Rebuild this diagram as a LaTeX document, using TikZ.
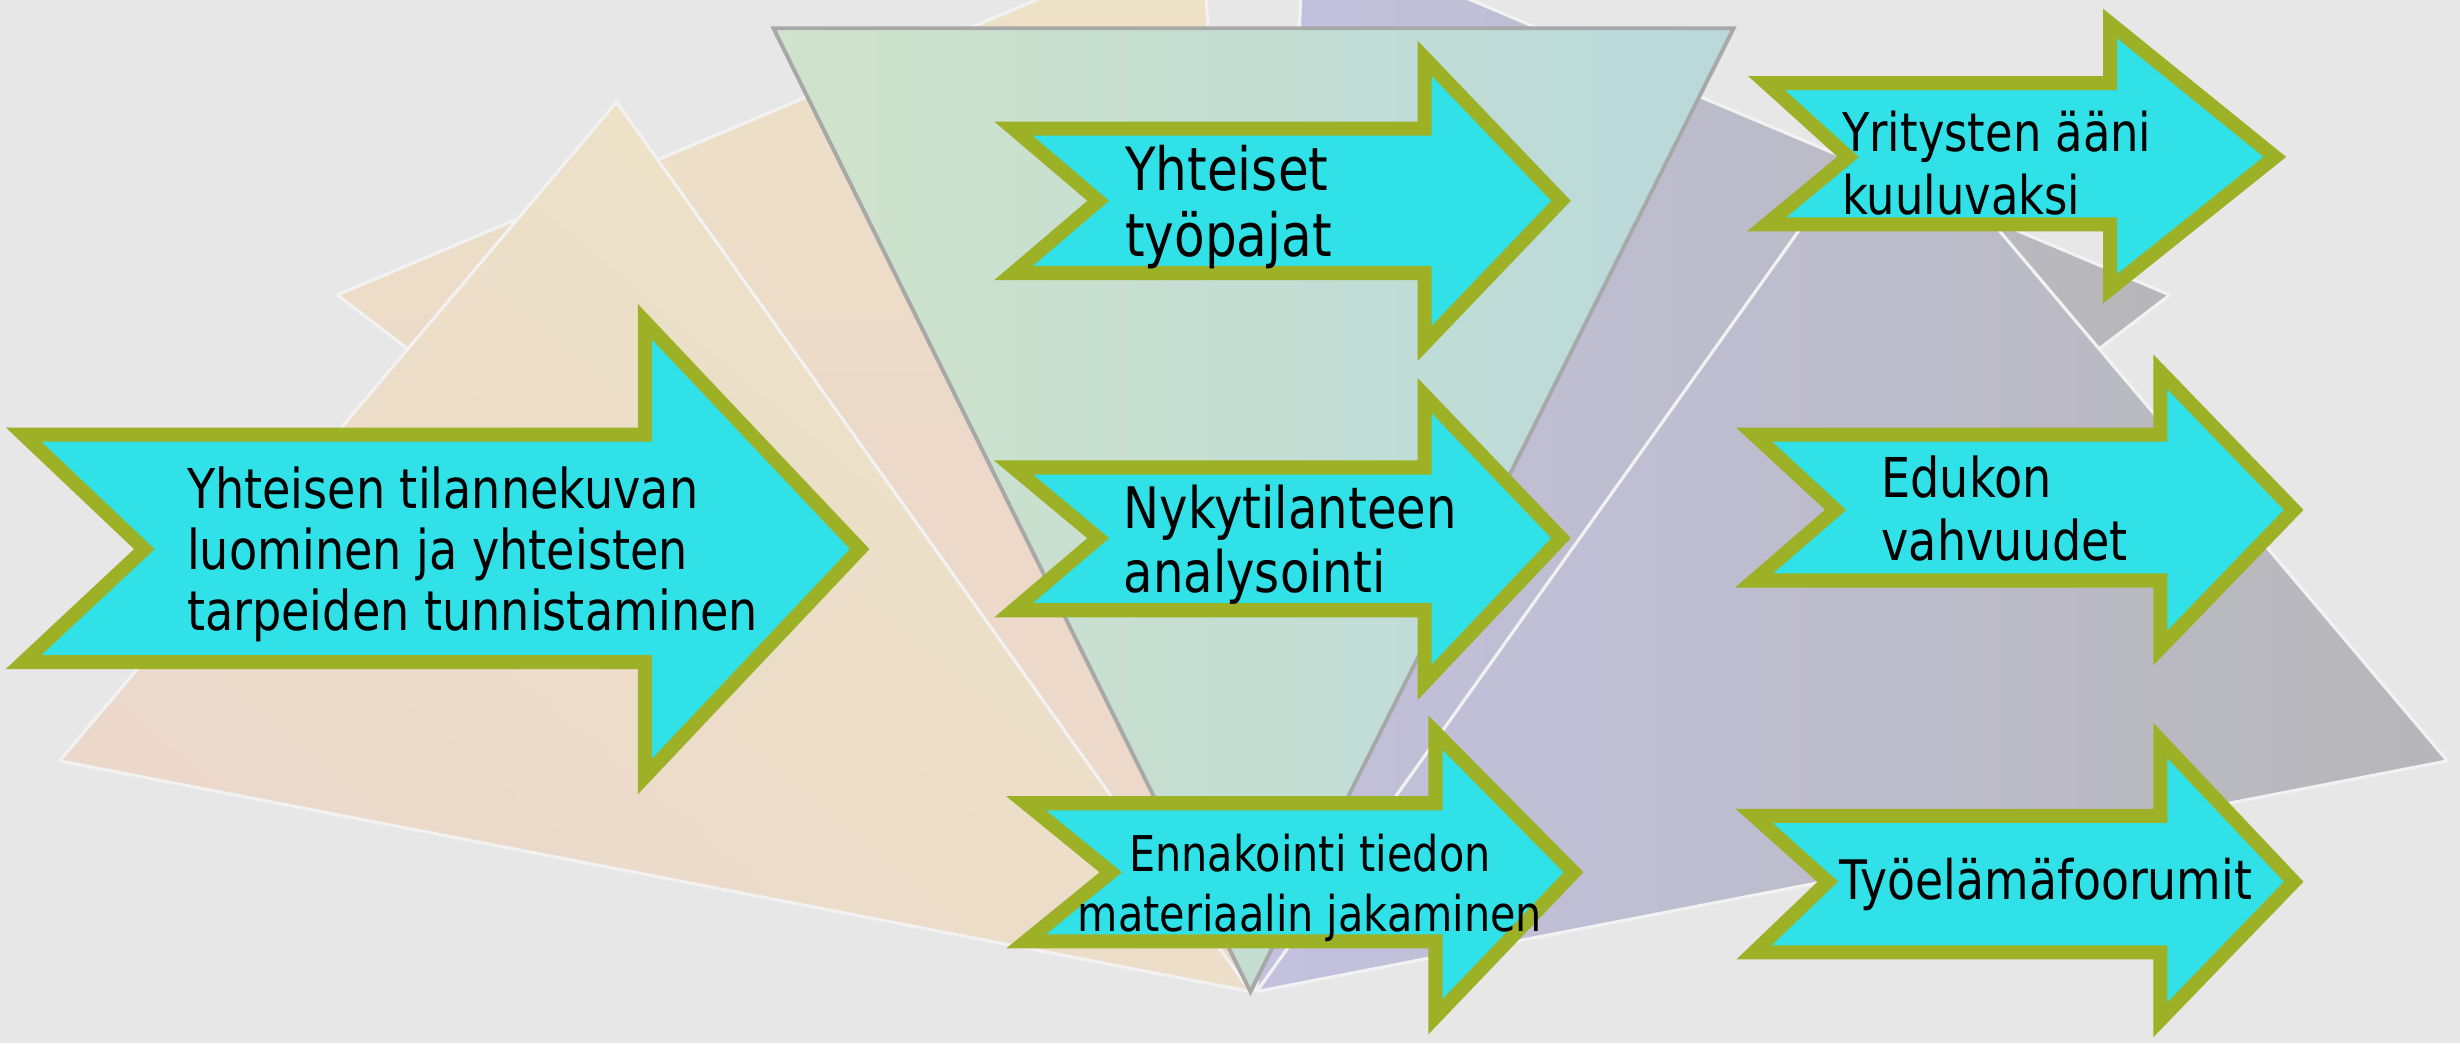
\documentclass[tikz,border=0pt]{standalone}
\usepackage{fontspec}
\setmainfont{DejaVu Sans}[FakeStretch=0.84]
\definecolor{bg}{HTML}{E7E7E7}
\definecolor{arrowfill}{HTML}{30E1E8}
\definecolor{arrowline}{HTML}{9CB126}
\definecolor{edgewhite}{HTML}{F2F2F2}
\definecolor{yelTop}{HTML}{EDE3C7}
\definecolor{yelBot}{HTML}{EBD8CB}
\definecolor{salTop}{HTML}{EDE2C6}
\definecolor{salBot}{HTML}{ECD9C9}
\definecolor{purTop}{HTML}{C3C1DE}
\definecolor{purMid}{HTML}{BDBCCB}
\definecolor{gryBot}{HTML}{B7B7B9}
\definecolor{grnL}{HTML}{D0E3CB}
\definecolor{grnR}{HTML}{B9D9DB}
\definecolor{grnEdge}{HTML}{A8A8A8}
\tikzset{
  arrowbox/.style={fill=arrowfill, draw=arrowline, line width=9pt, line join=miter},
  tri/.style={draw=edgewhite, line width=2pt, line join=round},
  lbl/.style={inner sep=0pt, text=black}
}
\begin{document}
\begin{tikzpicture}[x=1pt,y=-1pt]
\useasboundingbox (0,0) rectangle (1568,665);
\fill[bg] (0,0) rectangle (1568,665);
\clip (0,0) rectangle (1568,665);
% back triangles
\path[tri, top color=salTop, bottom color=salBot, middle color=salBot] (215,188) -- (767,-45) -- (797,632) -- cycle;
\path[tri, left color=purTop, right color=gryBot, middle color=purMid] (1383,188) -- (831,-45) -- (801,632) -- cycle;
% front triangles
\path[tri, top color=yelTop, bottom color=yelBot, shading angle=-40] (393,65) -- (38,485) -- (797,632) -- cycle;
\path[tri, left color=purTop, right color=gryBot] (1205,65) -- (1560,485) -- (801,632) -- cycle;
% inverted green triangle
\path[draw=grnEdge, line width=2.5pt, left color=grnL, right color=grnR] (493,18) -- (1105,18) -- (797,632) -- cycle;
% arrows
\draw[arrowbox] (15,277) -- (411,277) -- (411,205) -- (548,350) -- (411,495) -- (411,422) -- (15,422) -- (92,350) -- cycle;
\draw[arrowbox] (646,82) -- (908,82) -- (908,37) -- (995,128) -- (908,219) -- (908,174) -- (646,174) -- (700,128) -- cycle;
\draw[arrowbox] (646,298) -- (908,298) -- (908,252) -- (995,343) -- (908,435) -- (908,389) -- (646,389) -- (700,343) -- cycle;
\draw[arrowbox] (654,512) -- (915,512) -- (915,467) -- (1003,556) -- (915,648) -- (915,600) -- (654,600) -- (708,556) -- cycle;
\draw[arrowbox] (1126,53) -- (1345,53) -- (1345,15) -- (1450,100) -- (1345,184) -- (1345,143) -- (1126,143) -- (1178,100) -- cycle;
\draw[arrowbox] (1118,277) -- (1377,277) -- (1377,237) -- (1462,325) -- (1377,413) -- (1377,370) -- (1118,370) -- (1170,325) -- cycle;
\draw[arrowbox] (1118,520) -- (1377,520) -- (1377,472) -- (1462,562) -- (1377,650) -- (1377,607) -- (1118,607) -- (1165,562) -- cycle;
% texts
\node[lbl, anchor=west, align=left, font=\fontsize{35}{39}\selectfont] (t1) at (119,353.5) {Yhteisen tilannekuvan\\luominen ja yhteisten\\tarpeiden tunnistaminen};
\node[lbl, anchor=west, align=left, font=\fontsize{38}{42}\selectfont] (t2) at (717,132) {Yhteiset\\työpajat};
\node[lbl, anchor=west, align=left, font=\fontsize{36.5}{41}\selectfont] (t3) at (716,347) {Nykytilanteen\\analysointi};
\node[lbl, anchor=center, align=center, font=\fontsize{31.4}{38.5}\selectfont] (t4) at (835,566) {Ennakointi tiedon\\materiaalin jakaminen};
\node[lbl, anchor=west, align=left, font=\fontsize{34}{40}\selectfont] (t5) at (1174,104) {Yritysten ääni\\kuuluvaksi};
\node[lbl, anchor=west, align=left, font=\fontsize{35}{40}\selectfont] (t6) at (1199,324) {Edukon\\vahvuudet};
\node[lbl, anchor=center, font=\fontsize{34.7}{40}\selectfont] (t7) at (1304,564) {Työelämäfoorumit};
\end{tikzpicture}
\end{document}
